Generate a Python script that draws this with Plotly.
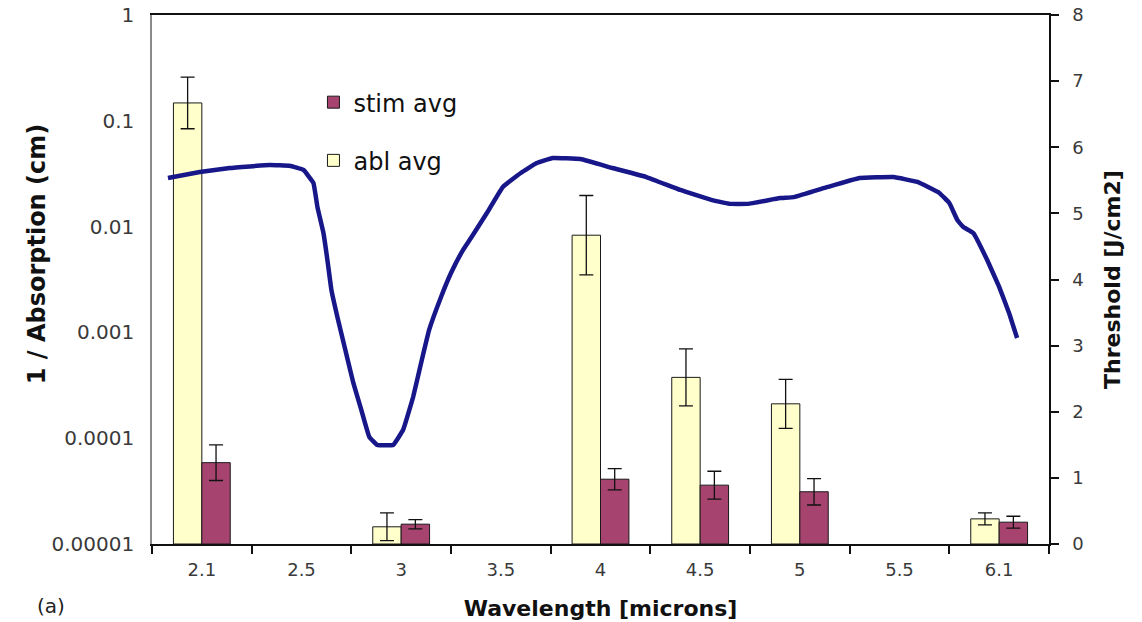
import plotly.graph_objects as go

# ---- data ----
categories = ["2.1", "2.5", "3", "3.5", "4", "4.5", "5", "5.5", "6.1"]
abl_avg = [6.67, None, 0.26, None, 4.67, 2.52, 2.12, None, 0.38]
abl_err = [0.39, 0, 0.21, 0, 0.60, 0.43, 0.37, 0, 0.09]
stim_avg = [1.23, None, 0.30, None, 0.98, 0.89, 0.79, None, 0.33]
stim_err = [0.27, 0, 0.07, 0, 0.16, 0.21, 0.20, 0, 0.09]

wavelength = [1.83, 1.99, 2.14, 2.34, 2.44, 2.51, 2.56, 2.58, 2.61, 2.63,
              2.65, 2.68, 2.72, 2.76, 2.80, 2.84, 2.88, 2.96, 3.01, 3.06,
              3.10, 3.14, 3.20, 3.25, 3.31, 3.35, 3.43, 3.51, 3.60, 3.68,
              3.76, 3.90, 4.06, 4.23, 4.40, 4.56, 4.65, 4.74, 4.90, 4.97,
              5.14, 5.30, 5.47, 5.59, 5.70, 5.75, 5.79, 5.82, 5.87, 5.94,
              6.00, 6.05, 6.09]
inv_absorption = [0.0288, 0.0328, 0.0358, 0.0382, 0.0376, 0.0343, 0.0258, 0.0153, 0.0087, 0.00483,
                  0.00252, 0.0014, 0.000682, 0.000333, 0.000185, 0.000103, 0.0000863, 0.0000863, 0.00012, 0.000245,
                  0.000514, 0.00105, 0.00216, 0.00364, 0.0060, 0.0078, 0.01345, 0.0237, 0.0321, 0.0399,
                  0.0445, 0.0435, 0.0358, 0.0294, 0.0222, 0.0178, 0.0164, 0.0164, 0.0186, 0.0190,
                  0.0237, 0.0288, 0.0294, 0.0264, 0.0208, 0.0167, 0.01154, 0.0099, 0.0087, 0.00483,
                  0.00269, 0.00152, 0.000885]

log_tickvals = [1e-5, 1e-4, 1e-3, 1e-2, 1e-1, 1]
log_ticktext = ["0.00001", "0.0001", "0.001", "0.01", "0.1", "1"]

FONT = "DejaVu Sans, Arial, sans-serif"
TICKCOL = "#3a3a3a"

fig = go.Figure()

fig.add_trace(go.Bar(
    x=categories, y=abl_avg, name="abl avg", legendgroup="abl", legendrank=2,
    marker=dict(color="#FFFFCC", line=dict(color="#1a1a1a", width=1)),
    error_y=dict(type="data", array=abl_err, visible=True, color="#111111", thickness=1.3, width=7),
    xaxis="x", yaxis="y",
))
fig.add_trace(go.Bar(
    x=categories, y=stim_avg, name="stim avg", legendgroup="stim", legendrank=1,
    marker=dict(color="#A6446F", line=dict(color="#1a1a1a", width=1)),
    error_y=dict(type="data", array=stim_err, visible=True, color="#111111", thickness=1.3, width=7),
    xaxis="x", yaxis="y",
))
fig.add_trace(go.Scatter(
    x=wavelength, y=inv_absorption, mode="lines", showlegend=False,
    line=dict(color="#17178A", width=4.5, shape="spline", smoothing=0.25),
    xaxis="x2", yaxis="y2",
))

fig.update_layout(
    width=1142, height=622,
    margin=dict(l=152, r=93, t=15, b=78, autoexpand=False),
    paper_bgcolor="white", plot_bgcolor="white",
    font=dict(family=FONT, color=TICKCOL),
    barmode="group", bargap=0.43, bargroupgap=0,
    xaxis=dict(
        type="category", categoryorder="array", categoryarray=categories,
        range=[-0.5, 8.5], automargin=False,
        showline=True, linecolor="#111111", linewidth=2, mirror=True,
        ticks="outside", tickson="boundaries", ticklen=8, tickcolor="#111111", tickwidth=1.5,
        ticklabelstandoff=8,
        tickfont=dict(size=18, color=TICKCOL, family=FONT),
        showgrid=False, zeroline=False,
        title=dict(text="<b>Wavelength [microns]</b>", font=dict(size=22, color="#111111", family=FONT), standoff=22),
    ),
    xaxis2=dict(
        overlaying="x", anchor="y2", range=[1.75, 6.25], visible=False, showgrid=False,
    ),
    yaxis=dict(
        side="right", range=[0, 8], dtick=1, tick0=0, automargin=False,
        showline=True, linecolor="#111111", linewidth=1.5,
        ticks="outside", ticklen=8, tickcolor="#111111", tickwidth=1.5,
        ticklabelstandoff=10,
        tickfont=dict(size=18, color=TICKCOL, family=FONT),
        showgrid=False, zeroline=False,
        title=dict(text="<b>Threshold [J/cm2]</b>", font=dict(size=22, color="#111111", family=FONT), standoff=22),
    ),
    yaxis2=dict(
        type="log", range=[-5, 0], overlaying="y", side="left", anchor="x", automargin=False,
        tickvals=log_tickvals, ticktext=log_ticktext,
        showline=True, linecolor="#8a8a8a", linewidth=1.5,
        ticks="", ticklabelstandoff=12,
        tickfont=dict(size=20, color=TICKCOL, family=FONT),
        showgrid=False, zeroline=False,
    ),
    legend=dict(
        x=0.18, y=0.877, xanchor="left", yanchor="top",
        traceorder="grouped", tracegroupgap=24,
        font=dict(size=24, color="#111111", family=FONT),
        bgcolor="rgba(0,0,0,0)",
    ),
    annotations=[
        dict(
            text="(a)", xref="paper", yref="paper", x=-0.13, y=-0.117,
            xanchor="left", yanchor="middle", showarrow=False,
            font=dict(size=20, color="#222222", family=FONT),
        ),
        dict(
            text="<b>1 / Absorption (cm)</b>", xref="paper", yref="paper", x=-0.128, y=0.548,
            xanchor="center", yanchor="middle", textangle=-90, showarrow=False,
            font=dict(size=24, color="#111111", family=FONT),
        ),
    ],
)

fig.write_html("out.html", config={"displayModeBar": False},
               post_script="document.body.style.margin='0px';")
